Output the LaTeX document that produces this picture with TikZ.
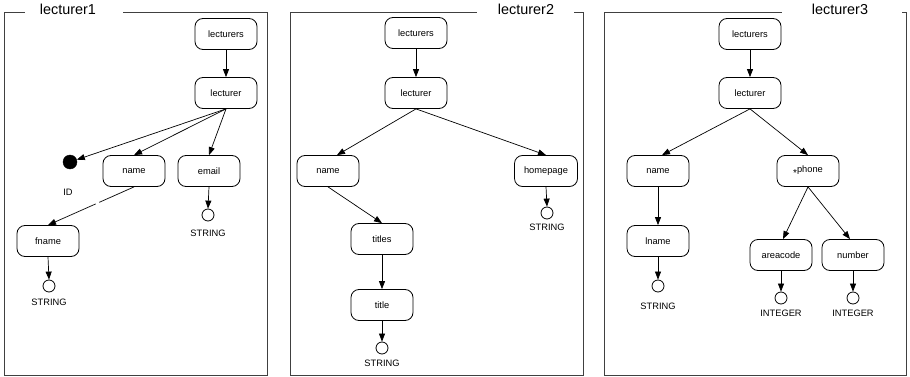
\documentclass[tikz,border=0pt]{standalone}
\usepackage{fontspec}
\setmainfont{Liberation Sans}
\usetikzlibrary{arrows.meta}
\begin{document}
\begin{tikzpicture}[x=1pt,y=-1pt,
  elem/.style={draw, rounded corners=8pt, minimum width=62pt, minimum height=31pt, line width=0.8pt, font=\fontsize{9.3}{11}\selectfont, inner sep=0pt},
  leaf/.style={draw, circle, fill=white, minimum size=12pt, inner sep=0pt, line width=0.8pt},
  attr/.style={draw, circle, fill=black, minimum size=14pt, inner sep=0pt},
  lbl/.style={font=\fontsize{9.3}{11}\selectfont, inner sep=0pt},
  ttl/.style={font=\fontsize{14.4}{16}\selectfont, inner sep=0pt, anchor=base},
  frame/.style={draw=black!75, line width=0.9pt},
  arr/.style={-{Triangle[length=8pt,width=6pt]}, line width=0.7pt}
]
\useasboundingbox (0,0) rectangle (910,377);

% ---------- panel 1 ----------
\draw[frame] (123,12) -- (267,12) -- (267,375) -- (4,375) -- (4,12) -- (25,12);
\node[ttl] (t1) at (68,15) {lecturer1};
\node[elem] (l1s) at (226,34) {lecturers};
\node[elem] (l1) at (226,93) {lecturer};
\node[attr] (id1) at (70,162) {};
\node[lbl] (id1l) at (68,192) {ID};
\node[elem] (n1) at (134,171) {name};
\node[elem] (e1) at (209,171) {email};
\node[leaf] (e1c) at (208,215) {};
\node[lbl] (e1l) at (208,233) {STRING};
\node[elem] (fn1) at (48,241) {fname};
\node[leaf] (fn1c) at (49,286) {};
\node[lbl] (fn1l) at (49,302) {STRING};
\draw[arr] (l1s) -- (l1);
\draw[arr] (l1.south) -- (id1);
\draw[arr] (l1.south) -- (n1.north);
\draw[arr] (l1.south) -- (e1.north);
\draw[arr, dash pattern=on 38pt off 4pt on 200pt] (n1.south) -- (fn1.north);
\draw[arr] (e1.south) -- (e1c.north);
\draw[arr] (fn1.south) -- (fn1c.north);

% ---------- panel 2 ----------
\draw[frame] (574,12) -- (583,12) -- (583,375) -- (290,375) -- (290,12) -- (477,12);
\node[ttl] (t2) at (526,15) {lecturer2};
\node[elem] (l2s) at (416,33) {lecturers};
\node[elem] (l2) at (416,93) {lecturer};
\node[elem] (n2) at (328,171) {name};
\node[elem, minimum width=63pt] (h2) at (546,171) {homepage};
\node[leaf] (h2c) at (547,213) {};
\node[lbl] (h2l) at (547,227) {STRING};
\node[elem] (ts2) at (382,239) {titles};
\node[elem] (tt2) at (382,305) {title};
\node[leaf] (tt2c) at (382,348) {};
\node[lbl] (tt2l) at (382,363) {STRING};
\draw[arr] (l2s) -- (l2);
\draw[arr] (l2.south) -- ([xshift=9pt]n2.north);
\draw[arr] (l2.south) -- (h2.north);
\draw[arr] (n2.south) -- (ts2.north);
\draw[arr] (ts2) -- (tt2);
\draw[arr] (tt2) -- (tt2c);
\draw[arr] (h2.south) -- (h2c.north);

% ---------- panel 3 ----------
\draw[frame] (902,12) -- (906,12) -- (906,375) -- (604,375) -- (604,12) -- (782,12);
\node[ttl] (t3) at (840,15) {lecturer3};
\node[elem] (l3s) at (750,34) {lecturers};
\node[elem] (l3) at (750,93) {lecturer};
\node[elem] (n3) at (658,171) {name};
\node[elem] (p3) at (808,171) {\raisebox{-3.5pt}{\fontsize{10}{10}\selectfont *}phone};
\node[elem] (ln3) at (658,241) {lname};
\node[leaf] (ln3c) at (658,286) {};
\node[lbl] (ln3l) at (658,306) {STRING};
\node[elem] (a3) at (781,255) {areacode};
\node[elem] (nu3) at (853,255) {number};
\node[leaf] (a3c) at (781,298) {};
\node[lbl] (a3l) at (781,313) {INTEGER};
\node[leaf] (nu3c) at (853,298) {};
\node[lbl] (nu3l) at (853,313) {INTEGER};
\draw[arr] (l3s) -- (l3);
\draw[arr] (l3.south) -- ([xshift=4pt]n3.north);
\draw[arr] (l3.south) -- (p3.north);
\draw[arr] (p3.south) -- ([xshift=2pt]a3.north);
\draw[arr] (p3.south) -- ([xshift=-3pt]nu3.north);
\draw[arr] (n3) -- (ln3);
\draw[arr] (ln3) -- (ln3c);
\draw[arr] (a3) -- (a3c);
\draw[arr] (nu3) -- (nu3c);
\end{tikzpicture}
\end{document}
